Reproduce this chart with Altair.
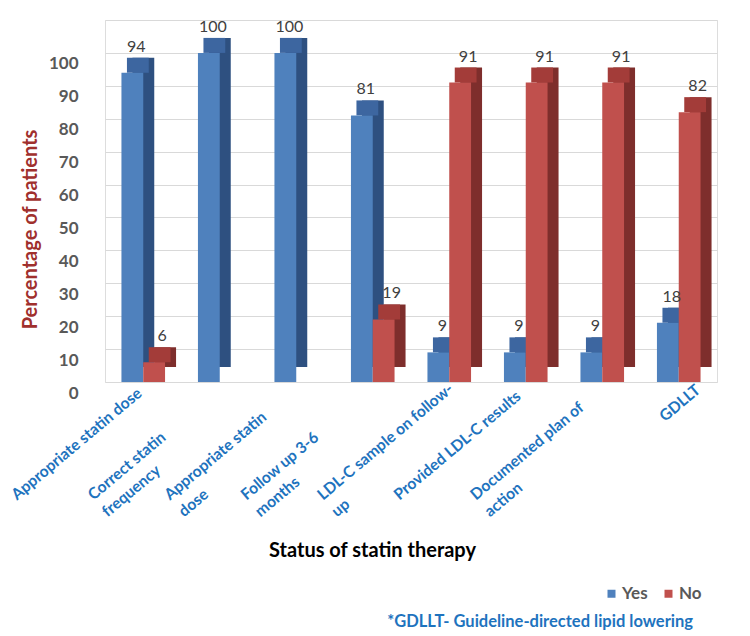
import altair as alt
import pandas as pd

categories = [
    "Appropriate statin dose",
    "Correct statin|frequency",
    "Appropriate  statin|dose",
    "Follow up 3-6|months",
    "LDL-C  sample on follow-|up",
    "Provided LDL-C results",
    "Documented plan of|action",
    "GDLLT",
]
yes_values = [94, 100, 100, 81, 9, 9, 9, 18]
no_values = [6, None, None, 19, 91, 91, 91, 82]
series = ["Yes", "No"]
front_colors = ["#4F81BD", "#C0504D"]
top_colors = ["#3D66A0", "#A33C39"]
side_colors = ["#2E5080", "#7E2E2C"]
y_ticks = list(range(0, 111, 10))
footnote = ["*GDLLT- Guideline-directed lipid lowering"]

rows = []
for c, yv, nv in zip(categories, yes_values, no_values):
    rows.append({"cat": c, "series": "Yes", "value": yv})
    if nv is not None:
        rows.append({"cat": c, "series": "No", "value": nv})
df = pd.DataFrame(rows)

FONT = "Lato"
is_last = "datum.value === 'GDLLT'"

x_enc = alt.X(
    "cat:N",
    sort=categories,
    scale=alt.Scale(paddingInner=0.43, paddingOuter=0.215),
    title="Status of statin therapy",
    axis=alt.Axis(
        labelExpr="split(datum.label, '|')",
        labelAngle=-40,
        labelAlign={"condition": {"test": is_last, "value": "right"}, "value": "left"},
        labelBaseline="top",
        labelOffset={"condition": {"test": is_last, "value": 15}, "value": -134},
        labelPadding={"condition": {"test": is_last, "value": 0}, "value": 109},
        labelLineHeight=22,
        labelFont=FONT,
        labelFontSize=15.7,
        labelFontWeight="bold",
        labelColor="#1E73BE",
        labelLimit=400,
        labelOverlap=False,
        ticks=False,
        domain=False,
        grid=False,
        titleFont=FONT,
        titleFontSize=20,
        titleFontWeight="bold",
        titleColor="#000000",
        titleX=267,
        titleY=168,
        titleAlign="center",
        titleBaseline="middle",
    ),
)
y_enc = alt.Y(
    "value:Q",
    scale=alt.Scale(domain=[0, 110], nice=False),
    title="Percentage of patients",
    axis=alt.Axis(
        values=y_ticks,
        labelExpr="datum.value > 100 ? '' : datum.label",
        labelFont=FONT,
        labelFontSize=17,
        labelFontWeight="bold",
        labelColor="#595959",
        labelPadding=27,
        labelOffset=11,
        ticks=False,
        domain=False,
        grid=True,
        gridColor="#D9D9D9",
        gridWidth=1,
        titleFont=FONT,
        titleFontSize=20,
        titleFontWeight="bold",
        titleColor="#A0302D",
        titleX=-75,
        titleY=209,
        titleAlign="center",
        titleBaseline="middle",
    ),
)
fill_enc = alt.Fill(
    "series:N",
    sort=series,
    scale=alt.Scale(domain=series, range=front_colors),
    legend=alt.Legend(
        orient="none",
        legendX=498,
        legendY=565,
        direction="horizontal",
        title=None,
        symbolType="square",
        symbolSize=64,
        symbolStrokeWidth=0,
        labelFont=FONT,
        labelFontSize=17,
        labelFontWeight="bold",
        labelColor="#595959",
        columnPadding=12,
        labelOffset=2,
        padding=0,
    ),
)

HALF = alt.RelativeBandSize(0.5)
DEPTH_X = 11
SHIFT = 10.9


def bar_layers(name, sign, top_c, side_c, label_dx):
    base = alt.Chart(df).transform_filter(alt.datum.series == name)
    off = sign * SHIFT
    side = base.mark_bar(
        width=HALF, xOffset=off + DEPTH_X, yOffset=-15, y2Offset=-12, color=side_c
    ).encode(x=x_enc, y=y_enc)
    top = base.mark_bar(
        width=HALF, xOffset=off + DEPTH_X / 2, yOffset=-15, y2Offset=0, color=top_c
    ).encode(x=x_enc, y=y_enc, y2="value:Q")
    front = base.mark_bar(width=HALF, xOffset=off).encode(x=x_enc, y=y_enc, fill=fill_enc)
    text = base.mark_text(
        dx=off + label_dx, dy=-26, baseline="middle", align="center",
        font=FONT, fontSize=16, color="#404040",
    ).encode(x=x_enc, y=y_enc, text=alt.Text("value:Q"))
    return [side, top, front], text


yes_bars, yes_text = bar_layers("Yes", -1, top_colors[0], side_colors[0], 4)
no_bars, no_text = bar_layers("No", 1, top_colors[1], side_colors[1], 8)

note = alt.Chart(pd.DataFrame({"note": footnote})).mark_text(
    align="right", baseline="middle", font=FONT, fontSize=16.5, fontWeight="bold", color="#1E73BE"
).encode(text="note:N", x=alt.value(588), y=alt.value(602))

chart = (
    alt.layer(*yes_bars, *no_bars, yes_text, no_text, note)
    .properties(
        width=612,
        height=362,
        autosize=alt.AutoSizeParams(type="none"),
        padding={"left": 97, "top": 12, "right": 25, "bottom": 250},
    )
    .configure_view(stroke=None)
    .configure(background="white")
)

chart.save("out.html", embed_options={"renderer": "svg", "actions": False})
